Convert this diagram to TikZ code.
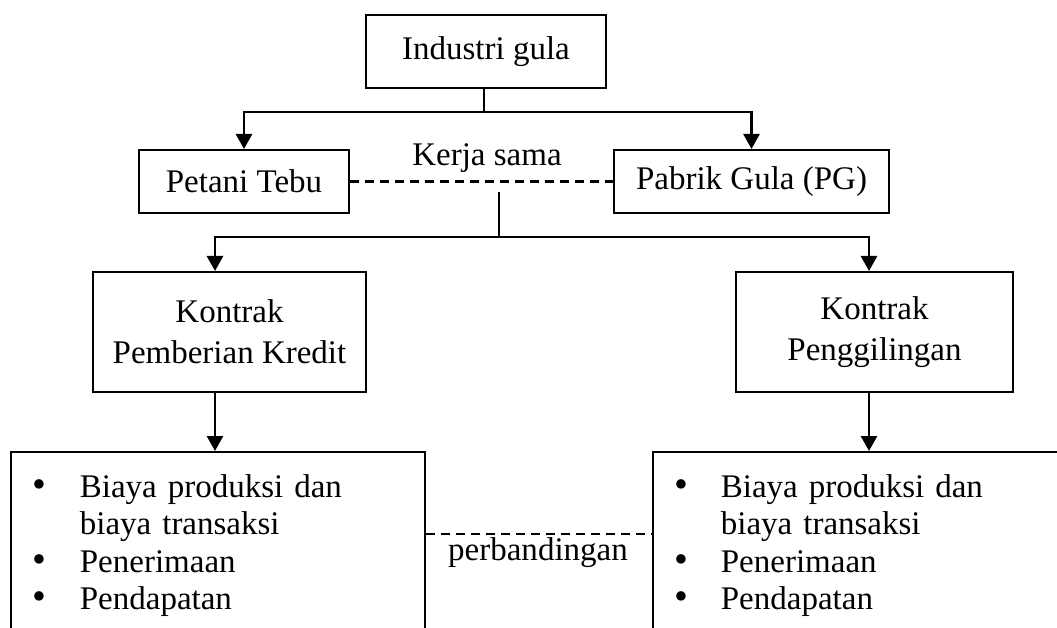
\documentclass[tikz,border=0pt]{standalone}
\usepackage{fontspec}
\setmainfont{Liberation Serif}
\usetikzlibrary{arrows.meta}
\newcommand{\bul}{\scalebox{1.2}{\textbullet}}
\begin{document}
\begin{tikzpicture}[x=1pt,y=-1pt,
  box/.style={draw,line width=2pt,inner sep=0pt,align=center,font=\fontsize{33}{41}\selectfont},
  listbox/.style={draw,line width=2pt,anchor=north west,inner xsep=0pt,inner ysep=19pt,align=left,font=\fontsize{33}{37.5}\selectfont},
  arr/.style={line width=2.6pt,-{Triangle[width=16pt,length=15pt]}},
  conn/.style={line width=2.4pt},
  link/.style={line width=2.6pt,dash pattern=on 9pt off 6pt},
  lbl/.style={anchor=base,font=\fontsize{33}{37}\selectfont}]
\useasboundingbox (0,0) rectangle (1057,628);
\clip (0,0) rectangle (1057,628);

\node[box,minimum width=240,minimum height=73] (ind) at (486,51.5) {Industri gula};
\node[box,minimum width=210,minimum height=63] (tani) at (244,181.5) {Petani Tebu};
\node[box,minimum width=275,minimum height=63] (pg) at (751.5,181.5) {Pabrik Gula (PG)};
\node[box,minimum width=273,minimum height=120] (kredit) at (229.5,332) {Kontrak\\Pemberian Kredit};
\node[box,minimum width=277,minimum height=120] (giling) at (874.5,332) {Kontrak\\Penggilingan};

\node[listbox,text width=414] (listL) at (10,451) {%
\begin{tabular}{@{\hspace{22pt}}l@{\hspace{33pt}}l@{}}
\bul & Biaya produksi dan\\
 & biaya transaksi\\
\bul & Penerimaan\\
\bul & Pendapatan
\end{tabular}};
\node[listbox,text width=430] (listR) at (652,451) {%
\begin{tabular}{@{\hspace{21pt}}l@{\hspace{33pt}}l@{}}
\bul & Biaya produksi dan\\
 & biaya transaksi\\
\bul & Penerimaan\\
\bul & Pendapatan
\end{tabular}};

% industri -> petani / pabrik
\coordinate (s1) at (484,112);
\draw[conn] (ind.south -| s1) -- (s1);
\draw[arr] (s1) -| (tani.north);
\draw[arr] (s1) -| (pg.north);

\draw[link] (tani.east) -- (pg.west);
\node[lbl] (kerja) at (487,166) {Kerja sama};

% kerja sama -> kontrak
\coordinate (k2) at (499,192);
\coordinate (s2) at (499,237);
\draw[conn] (k2) -- (s2);
\draw[arr] (s2) -| ([xshift=-14.5pt]kredit.north);
\draw[arr] (s2) -| ([xshift=-5.5pt]giling.north);

\draw[arr] ([xshift=-14.5pt]kredit.south) -- ([xshift=-14.5pt]kredit.south |- listL.north);
\draw[arr] ([xshift=-5.5pt]giling.south) -- ([xshift=-5.5pt]giling.south |- listR.north);

\path (listL.north east) ++(0,83) coordinate (c3);
\draw[link] (c3) -- (c3 -| listR.west);
\node[lbl] (banding) at (538,560) {perbandingan};
\end{tikzpicture}
\end{document}
